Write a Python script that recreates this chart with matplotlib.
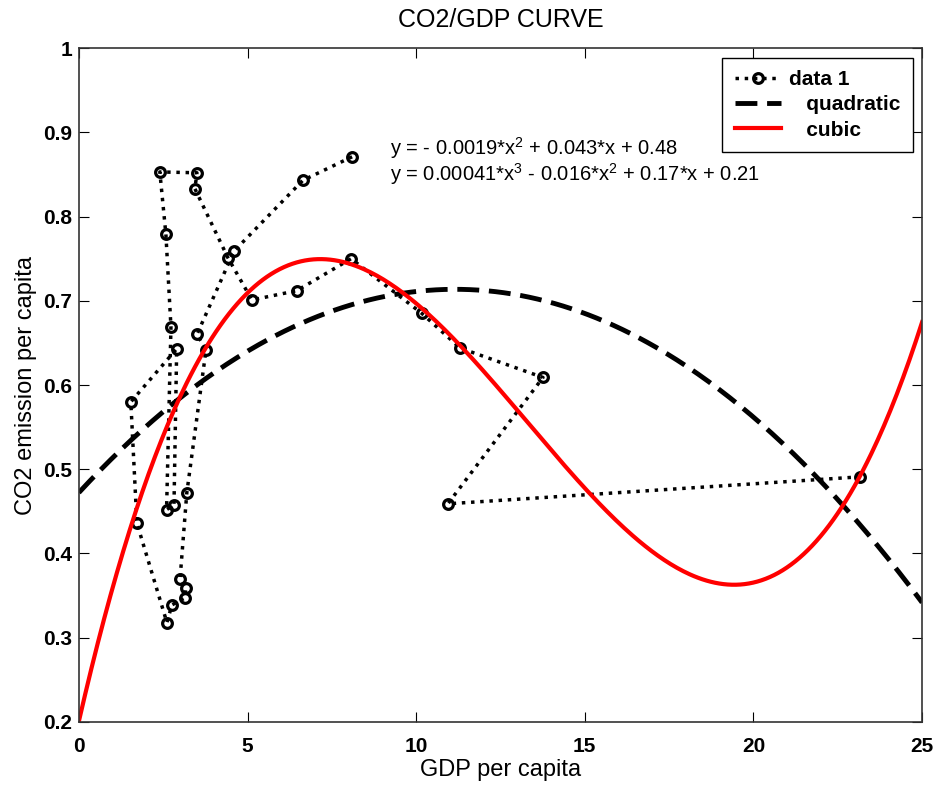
import numpy as np
import matplotlib
matplotlib.use("Agg")
import matplotlib.pyplot as plt

# GDP per capita / CO2 emission per capita, in series order
gdp = [8.1, 6.64, 4.6, 3.5, 3.77, 3.2, 3.0, 3.17, 3.14, 2.76, 2.61, 1.72, 1.54,
       2.9, 2.82, 2.6, 2.73, 2.58, 2.4, 3.5, 3.44, 4.42, 5.13, 6.46, 8.07,
       10.17, 11.3, 13.76, 10.94, 23.16]
co2 = [0.871, 0.843, 0.759, 0.66, 0.642, 0.472, 0.370, 0.359, 0.347, 0.339,
       0.318, 0.436, 0.58, 0.643, 0.458, 0.452, 0.669, 0.779, 0.853, 0.852,
       0.833, 0.751, 0.701, 0.712, 0.75, 0.685, 0.644, 0.609, 0.459, 0.491]

eq_quad = "y = - 0.0019*x$^2$ + 0.043*x + 0.48"
eq_cub = "y = 0.00041*x$^3$ - 0.016*x$^2$ + 0.17*x + 0.21"

plt.rcParams['font.family'] = ['Liberation Sans', 'DejaVu Sans']
plt.rcParams['mathtext.fontset'] = 'custom'
plt.rcParams['mathtext.rm'] = 'Liberation Sans'

fig = plt.figure(figsize=(9.39, 7.89), dpi=100)
ax = fig.add_axes([0.084, 0.085, 0.898, 0.854])

# basic fitting, like matlab does
p2 = np.polyfit(gdp, co2, 2)
p3 = np.polyfit(gdp, co2, 3)
xf = np.linspace(0, 25, 400)

ax.plot(gdp, co2, ':', color='black', lw=2.5, marker='o', ms=7,
        mfc='none', mec='black', mew=2.3, label='data 1')
ax.plot(xf, np.polyval(p2, xf), '--', color='black', lw=3.5,
        dashes=(4.5, 2), label='   quadratic')
ax.plot(xf, np.polyval(p3, xf), '-', color='red', lw=3, label='   cubic')

ax.text(9.22, 0.881, eq_quad, fontsize=14.5, va='center')
ax.text(9.22, 0.851, eq_cub, fontsize=14.5, va='center')

ax.set_xlim(0, 25)
ax.set_ylim(0.2, 1)
ax.set_xticks([0, 5, 10, 15, 20, 25])
ax.set_yticks(np.arange(0.2, 1.01, 0.1))
ax.set_yticklabels(['0.2', '0.3', '0.4', '0.5', '0.6', '0.7', '0.8', '0.9', '1'])
ax.tick_params(direction='in', top=True, right=True, length=7, labelsize=15)
ax.tick_params(axis='x', pad=11)
ax.tick_params(axis='y', pad=5)
for lab in ax.get_xticklabels() + ax.get_yticklabels():
    lab.set_fontweight('bold')
for s in ax.spines.values():
    s.set_linewidth(1.2)
    s.set_color('#333333')

ax.set_title('CO2/GDP CURVE', fontsize=18, pad=15)
ax.set_xlabel('GDP per capita', fontsize=17, labelpad=2)
ax.set_ylabel('CO2 emission per capita', fontsize=17, labelpad=4)

leg = ax.legend(loc='upper right', fancybox=False, framealpha=1,
                edgecolor='black', prop={'weight': 'bold', 'size': 15},
                handlelength=2.2, handletextpad=0.4, labelspacing=0.3,
                borderaxespad=0.45, borderpad=0.6)
leg.get_frame().set_linewidth(1.0)

fig.savefig('out.png', dpi=100)
